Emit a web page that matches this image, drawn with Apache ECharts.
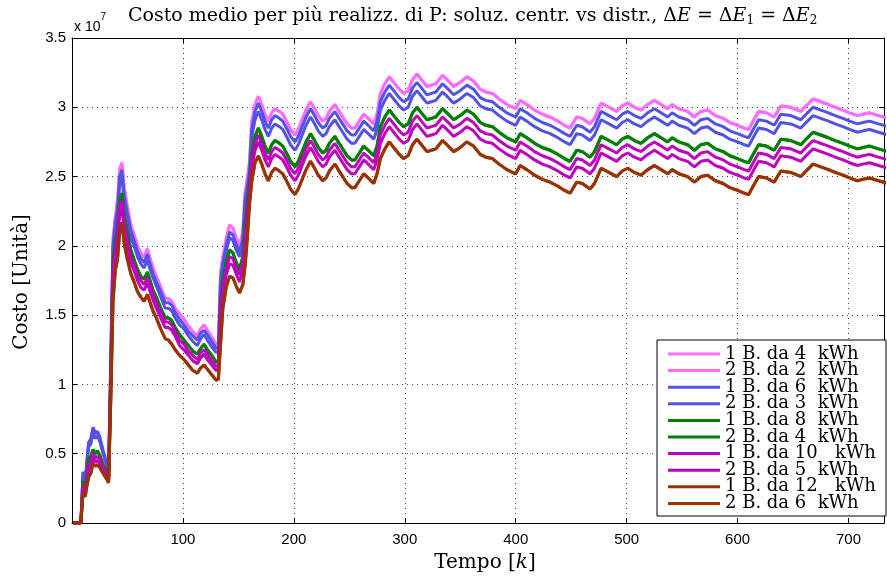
<!DOCTYPE html>
<html>
<head>
<meta charset="utf-8">
<script src="https://cdn.jsdelivr.net/npm/echarts@6/dist/echarts.min.js"></script>
<style>html,body{margin:0;padding:0;background:#fff}#c{width:887px;height:580px}</style>
</head>
<body>
<div id="c"></div>
<script>
// time steps k
const k = [1,8,10,12,13,15,17,19,21,23,25,28,31,33,35,37,39,41,43,45,47,50,53,56,59,62,65,68,70,73,76,80,84,87,90,93,97,101,105,109,113,116,119,122,126,130,132,134,136,139,142,145,148,151,154,156,158,160,162,165,168,
171,174,177,180,183,187,190,194,197,201,204,207,211,215,218,222,226,229,232,237,240,244,248,252,255,259,263,267,272,275,
278,282,286,290,295,299,303,307,311,315,320,324,328,334,338,344,350,356,362,368,373,379,385,392,400,404,410,417,424,431,438,444,449,455,460,467,471,477,484,491,496,501,507,513,519,525,531,537,541,547,555,561,567,573,580,587,593,600,606,610,614,619,626,633,636,639,648,657,663,668,675,682,688,695,701,708,713,719,727,736];

// cost values, units of 1e7
const cost1B4 = [0,0,0.37,0.28,0.40,0.58,0.60,0.68,0.64,0.66,0.62,0.52,0.44,0.38,1.20,2.05,2.20,2.32,2.55,2.60,2.42,2.28,2.15,2.08,2.00,1.95,1.92,1.98,1.92,1.84,1.78,1.70,1.62,1.62,1.60,1.55,1.51,1.47,1.42,1.38,1.35,1.40,1.43,1.39,1.34,1.29,1.30,1.80,1.92,2.05,2.15,2.13,2.06,2.00,2.10,2.38,2.48,2.60,2.89,3.02,3.08,
3.02,2.95,2.90,2.96,2.99,2.97,2.95,2.89,2.84,2.80,2.84,2.90,2.98,3.04,3.00,2.94,2.90,2.92,2.97,3.02,2.98,2.93,2.88,2.85,2.85,2.90,2.95,2.92,2.88,2.95,
3.10,3.17,3.22,3.18,3.13,3.10,3.12,3.20,3.24,3.20,3.15,3.16,3.17,3.23,3.20,3.15,3.18,3.22,3.19,3.13,3.11,3.10,3.06,3.02,2.99,3.05,3.02,2.98,2.95,2.93,2.90,2.87,2.85,2.93,2.92,2.88,2.92,3.03,3.00,2.97,3.01,3.03,3.00,2.98,3.02,3.05,3.02,2.99,3.02,2.99,2.97,2.93,2.97,2.98,2.94,2.92,2.89,2.87,2.85,2.84,2.90,2.97,2.96,2.93,2.97,3.01,3.00,2.97,3.02,3.06,3.04,3.02,3.00,2.98,2.96,2.94,2.95,2.96,2.94,2.92];
const cost2B2 = [0,0,0.37,0.28,0.40,0.58,0.60,0.68,0.64,0.66,0.62,0.52,0.44,0.38,1.20,2.05,2.20,2.32,2.55,2.60,2.42,2.28,2.15,2.08,2.00,1.95,1.92,1.98,1.92,1.84,1.78,1.70,1.62,1.62,1.60,1.55,1.51,1.47,1.42,1.38,1.35,1.40,1.43,1.39,1.34,1.29,1.30,1.80,1.92,2.05,2.15,2.13,2.06,2.00,2.10,2.38,2.48,2.60,2.89,3.02,3.08,
3.02,2.95,2.90,2.96,2.99,2.97,2.95,2.89,2.84,2.80,2.84,2.90,2.98,3.04,3.00,2.94,2.90,2.92,2.97,3.02,2.98,2.93,2.88,2.85,2.85,2.90,2.95,2.92,2.88,2.95,
3.10,3.17,3.22,3.18,3.13,3.10,3.12,3.20,3.24,3.20,3.15,3.16,3.17,3.23,3.20,3.15,3.18,3.22,3.19,3.13,3.11,3.10,3.06,3.02,2.99,3.05,3.02,2.98,2.95,2.93,2.90,2.87,2.85,2.93,2.92,2.88,2.92,3.03,3.00,2.97,3.01,3.03,3.00,2.98,3.02,3.05,3.02,2.99,3.02,2.99,2.97,2.93,2.97,2.98,2.94,2.92,2.89,2.87,2.85,2.84,2.90,2.97,2.96,2.93,2.97,3.01,3.00,2.97,3.02,3.06,3.04,3.02,3.00,2.98,2.96,2.94,2.95,2.96,2.94,2.92];
const cost1B6 = [0,0,0.37,0.29,0.41,0.58,0.61,0.69,0.65,0.66,0.62,0.52,0.44,0.38,1.18,2.01,2.16,2.27,2.50,2.55,2.37,2.23,2.11,2.04,1.96,1.91,1.88,1.94,1.88,1.80,1.74,1.67,1.59,1.59,1.57,1.52,1.47,1.43,1.38,1.35,1.32,1.37,1.39,1.36,1.31,1.26,1.27,1.76,1.88,2.00,2.10,2.08,2.01,1.96,2.05,2.33,2.43,2.54,2.84,2.97,3.03,
2.97,2.90,2.85,2.91,2.94,2.92,2.90,2.84,2.79,2.75,2.79,2.85,2.93,2.99,2.95,2.89,2.85,2.87,2.92,2.97,2.93,2.88,2.83,2.80,2.80,2.85,2.90,2.87,2.83,2.90,
3.04,3.11,3.16,3.12,3.07,3.04,3.06,3.14,3.18,3.14,3.09,3.10,3.11,3.17,3.14,3.09,3.12,3.16,3.13,3.07,3.05,3.04,3.00,2.96,2.93,2.99,2.96,2.92,2.89,2.87,2.84,2.81,2.79,2.87,2.86,2.82,2.86,2.97,2.94,2.91,2.95,2.97,2.94,2.92,2.96,2.99,2.96,2.93,2.96,2.93,2.91,2.87,2.91,2.92,2.88,2.86,2.83,2.81,2.79,2.78,2.84,2.91,2.90,2.87,2.91,2.95,2.94,2.91,2.96,3.00,2.98,2.96,2.94,2.92,2.90,2.88,2.89,2.90,2.88,2.86];
const cost2B3 = [0,0,0.35,0.27,0.38,0.55,0.57,0.65,0.61,0.63,0.59,0.50,0.42,0.36,1.15,1.97,2.11,2.23,2.45,2.50,2.32,2.19,2.06,2.00,1.92,1.87,1.84,1.90,1.84,1.77,1.71,1.63,1.55,1.55,1.53,1.48,1.43,1.40,1.35,1.31,1.28,1.33,1.36,1.32,1.27,1.23,1.24,1.72,1.84,1.96,2.06,2.04,1.97,1.92,2.01,2.28,2.38,2.49,2.78,2.91,2.97,
2.91,2.84,2.79,2.85,2.88,2.86,2.84,2.78,2.73,2.69,2.73,2.79,2.87,2.93,2.89,2.83,2.79,2.81,2.86,2.91,2.87,2.82,2.77,2.74,2.74,2.79,2.84,2.81,2.77,2.84,
2.98,3.05,3.10,3.06,3.01,2.98,3.00,3.08,3.12,3.08,3.03,3.04,3.05,3.11,3.08,3.03,3.06,3.10,3.07,3.01,2.99,2.98,2.94,2.90,2.87,2.93,2.90,2.86,2.83,2.81,2.78,2.75,2.73,2.81,2.80,2.76,2.80,2.91,2.88,2.85,2.89,2.91,2.88,2.86,2.90,2.93,2.90,2.87,2.90,2.87,2.85,2.81,2.85,2.86,2.82,2.80,2.77,2.75,2.73,2.72,2.78,2.85,2.84,2.81,2.85,2.89,2.88,2.85,2.90,2.94,2.92,2.90,2.88,2.86,2.84,2.82,2.83,2.84,2.82,2.80];
const cost1B8 = [0,0,0.30,0.24,0.32,0.46,0.48,0.53,0.50,0.52,0.49,0.42,0.37,0.33,1.08,1.88,2.01,2.12,2.33,2.38,2.21,2.09,1.97,1.90,1.83,1.78,1.76,1.81,1.76,1.68,1.63,1.55,1.48,1.48,1.46,1.41,1.36,1.32,1.28,1.24,1.22,1.26,1.29,1.25,1.21,1.16,1.17,1.60,1.74,1.88,1.97,1.95,1.88,1.83,1.92,2.15,2.30,2.45,2.66,2.79,2.85,
2.79,2.72,2.67,2.73,2.76,2.74,2.72,2.66,2.61,2.57,2.61,2.67,2.75,2.81,2.77,2.71,2.67,2.69,2.74,2.79,2.75,2.70,2.65,2.62,2.62,2.67,2.72,2.69,2.65,2.72,
2.86,2.93,2.98,2.94,2.89,2.86,2.88,2.96,3.00,2.96,2.91,2.92,2.93,2.99,2.96,2.91,2.94,2.98,2.95,2.89,2.87,2.86,2.82,2.78,2.75,2.81,2.78,2.74,2.71,2.69,2.66,2.63,2.61,2.69,2.68,2.64,2.68,2.79,2.76,2.73,2.77,2.79,2.76,2.74,2.78,2.81,2.78,2.75,2.78,2.75,2.73,2.69,2.73,2.74,2.70,2.68,2.65,2.63,2.61,2.60,2.66,2.73,2.72,2.69,2.73,2.77,2.76,2.73,2.78,2.82,2.80,2.78,2.76,2.74,2.72,2.70,2.71,2.72,2.70,2.68];
const cost2B4 = [0,0,0.30,0.24,0.32,0.46,0.48,0.53,0.50,0.52,0.49,0.42,0.37,0.33,1.08,1.88,2.01,2.12,2.33,2.38,2.21,2.09,1.97,1.90,1.83,1.78,1.76,1.81,1.76,1.68,1.63,1.55,1.48,1.48,1.46,1.41,1.36,1.32,1.28,1.24,1.22,1.26,1.29,1.25,1.21,1.16,1.17,1.60,1.74,1.88,1.97,1.95,1.88,1.83,1.92,2.15,2.30,2.45,2.66,2.79,2.85,
2.79,2.72,2.67,2.73,2.76,2.74,2.72,2.66,2.61,2.57,2.61,2.67,2.75,2.81,2.77,2.71,2.67,2.69,2.74,2.79,2.75,2.70,2.65,2.62,2.62,2.67,2.72,2.69,2.65,2.72,
2.86,2.93,2.98,2.94,2.89,2.86,2.88,2.96,3.00,2.96,2.91,2.92,2.93,2.99,2.96,2.91,2.94,2.98,2.95,2.89,2.87,2.86,2.82,2.78,2.75,2.81,2.78,2.74,2.71,2.69,2.66,2.63,2.61,2.69,2.68,2.64,2.68,2.79,2.76,2.73,2.77,2.79,2.76,2.74,2.78,2.81,2.78,2.75,2.78,2.75,2.73,2.69,2.73,2.74,2.70,2.68,2.65,2.63,2.61,2.60,2.66,2.73,2.72,2.69,2.73,2.77,2.76,2.73,2.78,2.82,2.80,2.78,2.76,2.74,2.72,2.70,2.71,2.72,2.70,2.68];
const cost1B10 = [0,0,0.27,0.22,0.29,0.42,0.44,0.50,0.47,0.48,0.46,0.40,0.35,0.32,1.04,1.83,1.97,2.08,2.28,2.33,2.17,2.04,1.92,1.86,1.79,1.75,1.72,1.77,1.72,1.65,1.59,1.52,1.45,1.45,1.43,1.38,1.32,1.29,1.24,1.21,1.18,1.23,1.25,1.22,1.17,1.13,1.14,1.55,1.70,1.83,1.92,1.91,1.84,1.79,1.88,2.05,2.25,2.40,2.61,2.74,2.80,
2.74,2.67,2.62,2.68,2.71,2.69,2.67,2.61,2.56,2.52,2.56,2.62,2.70,2.76,2.72,2.66,2.62,2.64,2.69,2.74,2.70,2.65,2.60,2.57,2.57,2.62,2.67,2.64,2.60,2.67,
2.80,2.87,2.92,2.88,2.83,2.80,2.82,2.90,2.94,2.90,2.85,2.86,2.87,2.93,2.90,2.85,2.88,2.92,2.89,2.83,2.81,2.80,2.76,2.72,2.69,2.75,2.72,2.68,2.65,2.63,2.60,2.57,2.55,2.63,2.62,2.58,2.62,2.73,2.70,2.67,2.71,2.73,2.70,2.68,2.72,2.75,2.72,2.69,2.72,2.69,2.67,2.63,2.67,2.68,2.64,2.62,2.59,2.57,2.55,2.54,2.60,2.67,2.66,2.63,2.67,2.71,2.70,2.67,2.72,2.76,2.74,2.72,2.70,2.68,2.66,2.64,2.65,2.66,2.64,2.62];
const cost2B5 = [0,0,0.25,0.21,0.28,0.39,0.41,0.47,0.44,0.45,0.43,0.38,0.34,0.31,1.00,1.79,1.92,2.03,2.23,2.27,2.11,1.99,1.88,1.82,1.75,1.70,1.68,1.73,1.68,1.61,1.55,1.48,1.41,1.41,1.39,1.35,1.28,1.25,1.21,1.17,1.15,1.19,1.22,1.18,1.14,1.10,1.11,1.50,1.65,1.79,1.87,1.86,1.80,1.74,1.83,1.98,2.18,2.32,2.56,2.69,2.75,
2.69,2.62,2.57,2.63,2.66,2.64,2.62,2.56,2.51,2.47,2.51,2.57,2.65,2.71,2.67,2.61,2.57,2.59,2.64,2.69,2.65,2.60,2.55,2.52,2.52,2.57,2.62,2.59,2.55,2.62,
2.74,2.81,2.86,2.82,2.77,2.74,2.76,2.84,2.88,2.84,2.79,2.80,2.81,2.87,2.84,2.79,2.82,2.86,2.83,2.77,2.75,2.74,2.70,2.66,2.63,2.69,2.66,2.62,2.59,2.57,2.54,2.51,2.49,2.57,2.56,2.52,2.56,2.67,2.64,2.61,2.65,2.67,2.64,2.62,2.66,2.69,2.66,2.63,2.66,2.63,2.61,2.57,2.61,2.62,2.58,2.56,2.53,2.51,2.49,2.48,2.54,2.61,2.60,2.57,2.61,2.65,2.64,2.61,2.66,2.70,2.68,2.66,2.64,2.62,2.60,2.58,2.59,2.60,2.58,2.56];
const cost1B12 = [0,0,0.22,0.19,0.25,0.33,0.36,0.43,0.41,0.42,0.40,0.36,0.32,0.29,0.90,1.60,1.82,1.90,2.10,2.17,2.02,1.90,1.80,1.74,1.67,1.63,1.60,1.65,1.60,1.53,1.48,1.40,1.33,1.32,1.29,1.25,1.21,1.18,1.14,1.10,1.08,1.12,1.14,1.11,1.07,1.03,1.04,1.30,1.55,1.70,1.78,1.77,1.71,1.66,1.72,1.85,2.05,2.30,2.46,2.60,2.65,
2.59,2.52,2.47,2.53,2.56,2.54,2.52,2.46,2.41,2.37,2.41,2.47,2.55,2.61,2.57,2.51,2.47,2.49,2.54,2.59,2.55,2.50,2.45,2.42,2.42,2.47,2.52,2.49,2.45,2.52,
2.63,2.70,2.75,2.71,2.66,2.63,2.65,2.73,2.77,2.73,2.68,2.69,2.70,2.76,2.73,2.68,2.71,2.75,2.72,2.66,2.64,2.63,2.59,2.55,2.52,2.58,2.55,2.51,2.48,2.46,2.43,2.40,2.38,2.46,2.45,2.41,2.45,2.56,2.53,2.50,2.54,2.56,2.53,2.51,2.55,2.58,2.55,2.52,2.55,2.52,2.50,2.46,2.50,2.51,2.47,2.45,2.42,2.40,2.38,2.37,2.43,2.50,2.49,2.46,2.50,2.54,2.53,2.50,2.55,2.59,2.57,2.55,2.53,2.51,2.49,2.47,2.48,2.49,2.47,2.45];
const cost2B6 = [0,0,0.22,0.19,0.25,0.33,0.36,0.43,0.41,0.42,0.40,0.36,0.32,0.29,0.90,1.60,1.82,1.90,2.10,2.17,2.02,1.90,1.80,1.74,1.67,1.63,1.60,1.65,1.60,1.53,1.48,1.40,1.33,1.32,1.29,1.25,1.21,1.18,1.14,1.10,1.08,1.12,1.14,1.11,1.07,1.03,1.04,1.30,1.55,1.70,1.78,1.77,1.71,1.66,1.72,1.85,2.05,2.30,2.46,2.60,2.65,
2.59,2.52,2.47,2.53,2.56,2.54,2.52,2.46,2.41,2.37,2.41,2.47,2.55,2.61,2.57,2.51,2.47,2.49,2.54,2.59,2.55,2.50,2.45,2.42,2.42,2.47,2.52,2.49,2.45,2.52,
2.63,2.70,2.75,2.71,2.66,2.63,2.65,2.73,2.77,2.73,2.68,2.69,2.70,2.76,2.73,2.68,2.71,2.75,2.72,2.66,2.64,2.63,2.59,2.55,2.52,2.58,2.55,2.51,2.48,2.46,2.43,2.40,2.38,2.46,2.45,2.41,2.45,2.56,2.53,2.50,2.54,2.56,2.53,2.51,2.55,2.58,2.55,2.52,2.55,2.52,2.50,2.46,2.50,2.51,2.47,2.45,2.42,2.40,2.38,2.37,2.43,2.50,2.49,2.46,2.50,2.54,2.53,2.50,2.55,2.59,2.57,2.55,2.53,2.51,2.49,2.47,2.48,2.49,2.47,2.45];

const seriesNames = ['1 B. da 4  kWh','2 B. da 2  kWh','1 B. da 6  kWh','2 B. da 3  kWh','1 B. da 8  kWh','2 B. da 4  kWh','1 B. da 10   kWh','2 B. da 5  kWh','1 B. da 12   kWh','2 B. da 6  kWh'];
const seriesValues = [cost1B4,cost2B2,cost1B6,cost2B3,cost1B8,cost2B4,cost1B10,cost2B5,cost1B12,cost2B6];
const seriesColors = ['#ff6cff','#ff6cff','#5252e6','#5252e6','#008000','#008000','#bf00bf','#bf00bf','#9a3300','#9a3300'];

const xTicks = [100,200,300,400,500,600,700];

const chart = echarts.init(document.getElementById('c'), null, {renderer:'canvas'});
const sansFont = 'Liberation Sans';
const serifFont = 'DejaVu Serif';
const gridStyle = {show:true, lineStyle:{color:'#444', width:1, type:[1,4]}, showMinLine:false, showMaxLine:false};

chart.setOption({
  animation:false,
  backgroundColor:'#fff',
  title:{
    left:128, top:5, padding:0,
    text:'{t|Costo medio per più realizz. di P: soluz. centr. vs distr., Δ}{i|E}{t| = Δ}{i|E}{s|1}{t| = Δ}{i|E}{s|2}',
    textStyle:{fontWeight:'normal', rich:{
      t:{fontFamily:serifFont, fontSize:19, fontWeight:'normal', color:'#000', lineHeight:22},
      i:{fontFamily:serifFont, fontSize:19, fontWeight:'normal', fontStyle:'italic', color:'#000', lineHeight:22},
      s:{fontFamily:serifFont, fontSize:12, fontWeight:'normal', color:'#000', lineHeight:13, verticalAlign:'bottom'}
    }}
  },
  grid:{left:72, right:1, top:38, bottom:57, containLabel:false},
  xAxis:[{
    type:'value', min:0, max:732, interval:100,
    axisLine:{show:true, onZero:false, lineStyle:{color:'#000', width:1}},
    axisTick:{show:true, inside:true, length:5, lineStyle:{color:'#000'}},
    axisLabel:{color:'#000', fontFamily:sansFont, fontSize:15, margin:9,
      formatter:v => xTicks.indexOf(v) >= 0 ? String(v) : ''},
    splitLine:gridStyle
  },{
    type:'value', position:'top', min:0, max:732, interval:100,
    axisLine:{show:true, onZero:false, lineStyle:{color:'#000', width:1}},
    axisTick:{show:true, inside:true, length:5, lineStyle:{color:'#000'}},
    axisLabel:{show:false}, splitLine:{show:false}
  }],
  yAxis:[{
    type:'value', min:0, max:3.5, interval:0.5,
    axisLine:{show:true, onZero:false, lineStyle:{color:'#000', width:1}},
    axisTick:{show:true, inside:true, length:5, lineStyle:{color:'#000'}},
    axisLabel:{color:'#000', fontFamily:sansFont, fontSize:15, margin:6},
    splitLine:gridStyle
  },{
    type:'value', position:'right', min:0, max:3.5, interval:0.5,
    axisLine:{show:true, onZero:false, lineStyle:{color:'#000', width:1}},
    axisTick:{show:true, inside:true, length:5, lineStyle:{color:'#000'}},
    axisLabel:{show:false}, splitLine:{show:false}
  }],
  legend:{
    orient:'vertical', left:657, top:341, padding:[4,0,4,11], itemGap:-1.4,
    icon:'rect', itemWidth:52, itemHeight:3, z:10,
    textStyle:{fontFamily:serifFont, fontSize:18, color:'#000', lineHeight:16.7},
    data:seriesNames
  },
  graphic:[
    {type:'rect', z:8, shape:{x:657, y:340, width:229, height:176}, style:{fill:'#fff', stroke:'#000', lineWidth:1}},
    {type:'text', left:74, top:12, z:10, style:{
      text:'{a|x 10}{b|7}', rich:{
        a:{fontFamily:sansFont, fontSize:14, fill:'#000', lineHeight:22, verticalAlign:'bottom'},
        b:{fontFamily:sansFont, fontSize:10, fill:'#000', lineHeight:22, verticalAlign:'top'}
      }}},
    {type:'text', x:22, y:282, rotation:Math.PI/2, z:10, style:{
      text:'Costo [Unità]', fontFamily:serifFont, fontSize:20, fill:'#000', align:'center', verticalAlign:'middle'}},
    {type:'text', x:485, y:563, z:10, style:{
      text:'{t|Tempo [}{i|k}{t|]}', align:'center', verticalAlign:'middle', rich:{
        t:{fontFamily:serifFont, fontSize:20, fill:'#000'},
        i:{fontFamily:serifFont, fontSize:20, fontStyle:'italic', fill:'#000'}
      }}}
  ],
  series:seriesNames.map((name, si) => ({
    name:name, type:'line', symbol:'none', showSymbol:false, clip:true,
    xAxisIndex:0, yAxisIndex:0,
    lineStyle:{color:seriesColors[si], width:3},
    itemStyle:{color:seriesColors[si]},
    data:k.map((x, i) => [x, seriesValues[si][i]])
  }))
});
</script>
</body>
</html>
